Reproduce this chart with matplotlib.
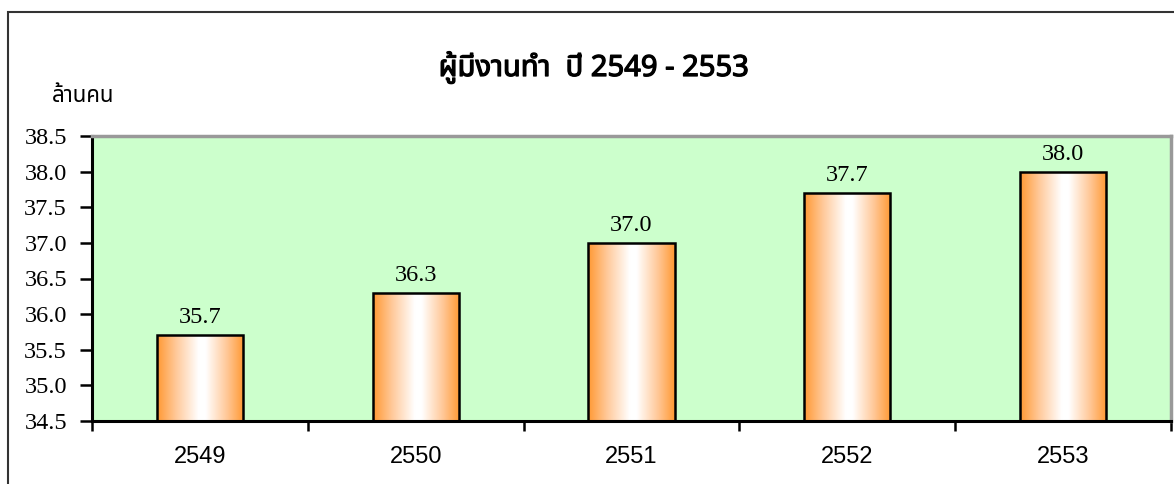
import numpy as np
import matplotlib
matplotlib.use("Agg")
import matplotlib.pyplot as plt
import matplotlib.patheffects as pe
from matplotlib.colors import LinearSegmentedColormap
from matplotlib.patches import Rectangle

years = ["2549", "2550", "2551", "2552", "2553"]
employed = [35.7, 36.3, 37.0, 37.7, 38.0]
yticks = [34.5, 35.0, 35.5, 36.0, 36.5, 37.0, 37.5, 38.0, 38.5]

title = "ผู้มีงานทำ  ปี 2549 - 2553"
unit = "ล้านคน"

thai = ["Noto Sans Thai", "Noto Sans Thai UI", "Anuphan", "Loma", "DejaVu Sans"]

fig = plt.figure(figsize=(11.74, 4.84), dpi=100)
# outer chart border
fig.patches.append(Rectangle((8 / 1174, -0.01), 1.1, (484 - 12) / 484 + 0.01,
                             transform=fig.transFigure, fill=False,
                             edgecolor="#333333", lw=1.5, zorder=0))

ax = fig.add_axes([92 / 1174, 1 - 421 / 484, 1079 / 1174, (421 - 136) / 484])
ax.set_facecolor("#CCFFCC")

x = np.arange(len(years))
bars = ax.bar(x, [v - 34.5 for v in employed], bottom=34.5, width=0.4,
              facecolor="none", edgecolor="black", lw=1.8, zorder=3)

cmap = LinearSegmentedColormap.from_list(
    "og", [(0, "#FF9933"), (0.22, "#FFC99A"), (0.48, "#FFFFFF"),
           (0.56, "#FFFFFF"), (0.8, "#FFC99A"), (1, "#FF9933")])
grad = np.linspace(0, 1, 256).reshape(1, -1)
for b in bars:
    x0, y0 = b.get_x(), b.get_y()
    im = ax.imshow(grad, cmap=cmap, aspect="auto", zorder=2,
                   extent=[x0, x0 + b.get_width(), y0, y0 + b.get_height()])
    im.set_clip_path(b)

for xi, v in zip(x, employed):
    ax.text(xi, v + 0.1, f"{v:.1f}", ha="center", va="bottom",
            family="Liberation Serif", fontsize=17.5)

ax.set_xlim(-0.5, len(years) - 0.5)
ax.set_ylim(34.5, 38.5)
ax.set_yticks(yticks)
ax.set_yticklabels([f"{t:.1f}" for t in yticks], family="Liberation Serif", fontsize=17.5)
ax.set_xticks(np.arange(len(years) + 1) - 0.5)
ax.set_xticklabels([])
ax.set_xticks(x, minor=True)
ax.set_xticklabels(years, minor=True, family="Liberation Sans", fontsize=17)
ax.tick_params(axis="x", which="major", direction="out", length=7, width=1.8)
ax.tick_params(axis="x", which="minor", length=0, pad=18)
ax.tick_params(axis="y", direction="out", length=9, width=1.8, pad=9)

for s in ["left", "bottom"]:
    ax.spines[s].set_linewidth(2.2)
    ax.spines[s].set_color("black")
for s in ["top", "right"]:
    ax.spines[s].set_linewidth(2.5)
    ax.spines[s].set_color("#999999")

fig.text(594 / 1174, 1 - 68 / 484, title, ha="center", va="center",
         family=thai, fontsize=21, fontweight="bold",
         path_effects=[pe.withStroke(linewidth=0.9, foreground="black")])
fig.text(52 / 1174, 1 - 97 / 484, unit, ha="left", va="center",
         family=thai, fontsize=16)

fig.savefig("out.png", dpi=100)
